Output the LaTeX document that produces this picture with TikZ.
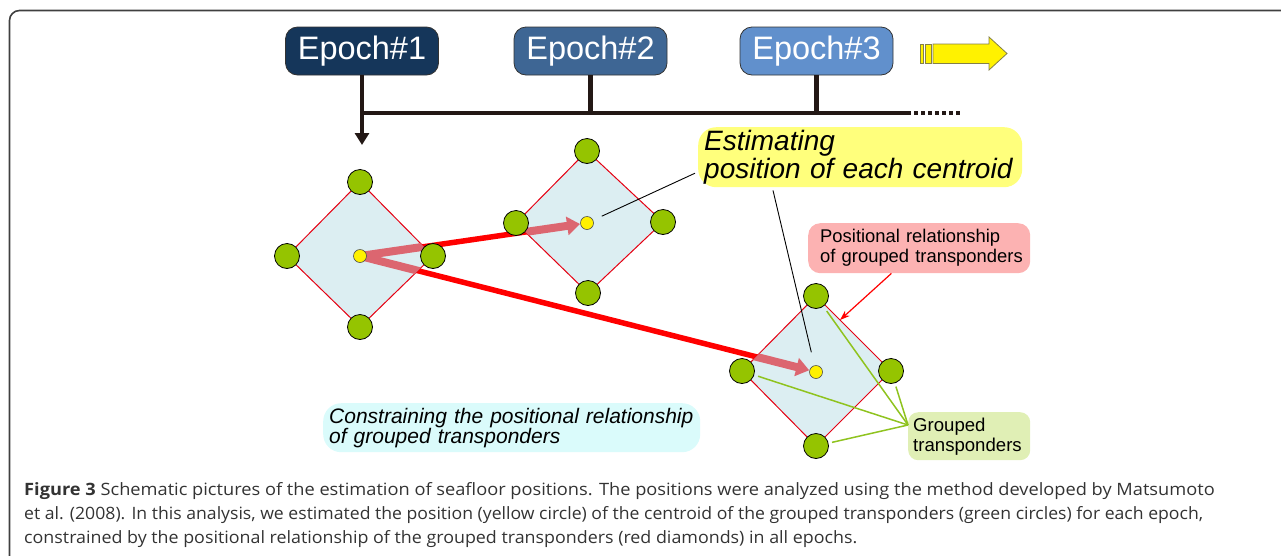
\documentclass[tikz,border=0pt]{standalone}
\usepackage{fontspec}
\setmainfont{Liberation Sans}
\newfontfamily\capfont{Open Sans}
\usetikzlibrary{arrows.meta,calc}
\definecolor{tlc}{HTML}{231815}
\definecolor{eonec}{HTML}{15365A}
\definecolor{etwoc}{HTML}{3E6694}
\definecolor{ethreec}{HTML}{6190CC}
\definecolor{tgreen}{HTML}{95C400}
\definecolor{tyellow}{HTML}{FFF100}
\definecolor{dblue}{HTML}{DCEEF2}
\definecolor{dred}{HTML}{E50012}
\definecolor{pinkc}{HTML}{DC6670}
\definecolor{estY}{HTML}{FFFF7C}
\definecolor{pboxc}{HTML}{FCB2B2}
\definecolor{gboxc}{HTML}{E0EFB5}
\definecolor{cboxc}{HTML}{DAFBFB}
\definecolor{capgray}{HTML}{333333}
\definecolor{gline}{HTML}{8FC31F}
\begin{document}
\begin{tikzpicture}[x=1pt,y=-1pt,
  epoch/.style={draw=black!80,line width=0.8pt,rounded corners=12pt,minimum width=153pt,minimum height=48pt,text=white,font=\fontsize{32.5}{32.5}\selectfont,inner sep=0pt},
  gcirc/.style={circle,draw=black,line width=0.8pt,fill=tgreen,minimum size=25pt,inner sep=0pt},
  ycirc/.style={circle,draw=black!70,line width=0.6pt,fill=tyellow,minimum size=13pt,inner sep=0pt},
  diam/.style={draw=dred,fill=dblue,line width=1pt},
  redline/.style={line width=5.5pt,draw=red},
  pinkline/.style={line width=8pt,draw=pinkc},
  pinkarrow/.style={line width=8pt,draw=pinkc,-{Triangle[length=13pt,width=18pt]}},
  tline/.style={line width=4.5pt,draw=tlc},
  yarrow/.style={fill=yellow,draw=black!55!yellow,line width=0.8pt},
  callline/.style={draw=black,line width=0.9pt},
  grline/.style={draw=gline,line width=1.5pt},
  textbox/.style={anchor=north west,align=left,inner ysep=0pt},
  capline/.style={anchor=base west,inner sep=0pt,text=capgray,font=\capfont\fontsize{17}{17}\selectfont}
]
\useasboundingbox (0,0) rectangle (1281,555);
% frame
\draw[line width=1.6pt,draw=black!75,rounded corners=10pt] (9.5,570) -- (9.5,10.5) -- (1295,10.5);

% epochs and timeline
\node[epoch,fill=eonec] (e1) at (362,51) {Epoch\#1};
\node[epoch,fill=etwoc] (e2) at (590.5,51) {Epoch\#2};
\node[epoch,fill=ethreec] (e3) at (816.5,51) {Epoch\#3};
\coordinate (h0) at (362,113);
\coordinate (hend) at (907,113);
\coordinate (hdot) at (960,113);
\coordinate (atip) at (362,145);
\draw[tline] (h0) -- (hend);
\draw[line width=4pt,draw=tlc,dash pattern=on 4pt off 3pt] (hend) -- (hdot);
\draw[tline] (e2.south) -- (e2.south |- h0);
\draw[tline] (e3.south) -- (e3.south |- h0);
\draw[tline,-{Triangle[length=12pt,width=14pt]}] (e1.south) -- (atip);

% yellow arrow
\draw[yarrow] (920,44) rectangle (923.5,63.5);
\draw[yarrow] (925.5,44) rectangle (931.5,63.5);
\draw[yarrow] (933,44) -- (989,44) -- (989,37) -- (1007,53.5) -- (989,70) -- (989,63.5) -- (933,63.5) -- cycle;

% diamond coordinates
\coordinate (T1) at (360,182); \coordinate (R1) at (433,256); \coordinate (B1) at (360,327); \coordinate (L1) at (287,256);
\coordinate (T2) at (587,151); \coordinate (R2) at (663,222); \coordinate (B2) at (588,293); \coordinate (L2) at (516,223);
\coordinate (T3) at (816,296); \coordinate (R3) at (891,371); \coordinate (B3) at (816,446); \coordinate (L3) at (742,371);
\coordinate (C1) at (360,256); \coordinate (C2) at (587,223); \coordinate (C3) at (816,372);

% thick red connections
\draw[redline] (C1) -- (C2);
\draw[redline] (C1) -- (C3);

% diamonds
\draw[diam] (T1) -- (R1) -- (B1) -- (L1) -- cycle;
\draw[diam] (T2) -- (R2) -- (B2) -- (L2) -- cycle;
\draw[diam] (T3) -- (R3) -- (B3) -- (L3) -- cycle;

% pink arrows inside diamonds
\begin{scope}
  \clip (T1) -- (R1) -- (B1) -- (L1) -- cycle;
  \draw[pinkline] (C1) -- (C2);
  \draw[pinkline] (C1) -- (C3);
\end{scope}
\begin{scope}
  \clip (T2) -- (R2) -- (B2) -- (L2) -- cycle;
  \draw[pinkarrow,shorten >=7pt] (C1) -- (C2);
\end{scope}
\begin{scope}
  \clip (T3) -- (R3) -- (B3) -- (L3) -- cycle;
  \draw[pinkarrow,shorten >=7pt] (C1) -- (C3);
\end{scope}

% text boxes
\node[textbox,fill=estY,rounded corners=18pt,text width=312pt,inner xsep=6pt,minimum height=60pt,font=\itshape\fontsize{28}{28}\selectfont] (est) at (698,127) {Estimating\\position of each centroid};
\node[textbox,fill=pboxc,rounded corners=12pt,text width=210pt,inner xsep=6pt,minimum height=50pt,font=\fontsize{18.4}{20}\selectfont] (pbox) at (808,223) {\hspace*{6pt}Positional relationship\\\hspace*{6pt}of grouped transponders};
\node[textbox,fill=gboxc,rounded corners=10pt,text width=112pt,inner xsep=5pt,minimum height=48pt,font=\fontsize{18.6}{20}\selectfont] (gbox) at (908,412) {Grouped\\transponders};
\node[textbox,fill=cboxc,rounded corners=18pt,text width=365pt,inner xsep=6pt,minimum height=49pt,font=\itshape\fontsize{21}{20}\selectfont] (cbox) at (323,403) {Constraining the positional relationship\\of grouped transponders};

% circles
\node[gcirc] (t1) at (T1) {}; \node[gcirc] (r1) at (R1) {}; \node[gcirc] (b1) at (B1) {}; \node[gcirc] (l1) at (L1) {};
\node[gcirc] (t2) at (T2) {}; \node[gcirc] (r2) at (R2) {}; \node[gcirc] (b2) at (B2) {}; \node[gcirc] (l2) at (L2) {};
\node[gcirc] (t3) at (T3) {}; \node[gcirc] (r3) at (R3) {}; \node[gcirc] (b3) at (B3) {}; \node[gcirc] (l3) at (L3) {};
\node[ycirc] (c1) at (C1) {}; \node[ycirc] (c2) at (C2) {}; \node[ycirc] (c3) at (C3) {};

% callout lines
\draw[callline,shorten >=9.5pt] ($(est.west)+(-3,16)$) -- (c2);
\draw[callline,shorten >=13.5pt] ($(est.south west)+(75,3)$) -- (c3);

% green lines
\coordinate (gp) at (908,425);
\draw[grline,shorten >=5.5pt] (gp) -- (t3);
\draw[grline,shorten >=3.5pt] (gp) -- (r3);
\draw[grline,shorten >=3.5pt] (gp) -- (b3);
\draw[grline,shorten >=4pt] (gp) -- (l3);

% red arrow to diamond
\coordinate (d3e) at ($(T3)!0.32!(R3)$);
\draw[draw=red,line width=1.2pt,-{Stealth[length=10pt,width=7pt]}] ($(pbox.south west)!0.375!(pbox.south east)$) -- (d3e);

% caption
\node[capline] (cap1) at (24,495) {\scalebox{1.072}[1]{\textbf{Figure 3} Schematic pictures of the estimation of seafloor positions. The positions were analyzed using the method developed by Matsumoto}};
\node[capline] (cap2) at (24,519) {\scalebox{1.037}[1]{et al. (2008). In this analysis, we estimated the position (yellow circle) of the centroid of the grouped transponders (green circles) for each epoch,}};
\node[capline] (cap3) at (24,543) {\scalebox{1.05}[1]{constrained by the positional relationship of the grouped transponders (red diamonds) in all epochs.}};
\end{tikzpicture}
\end{document}
